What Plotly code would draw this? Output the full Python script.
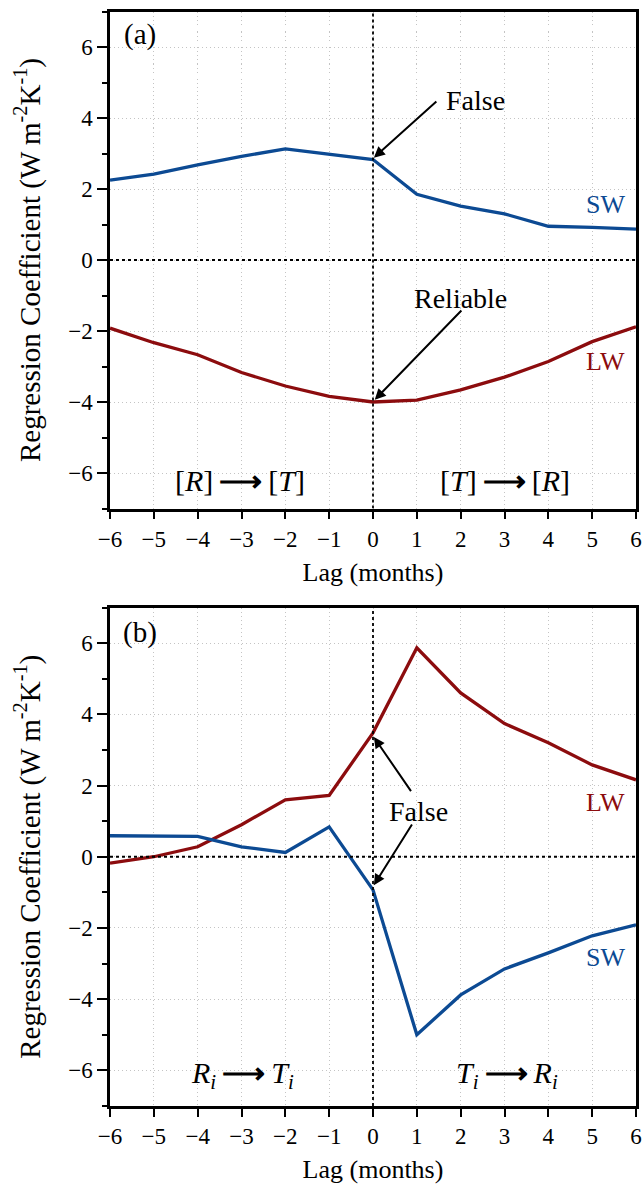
import plotly.graph_objects as go
from plotly.subplots import make_subplots

lags = [-6, -5, -4, -3, -2, -1, 0, 1, 2, 3, 4, 5, 6]

# Panel (a)
sw_a = [2.25, 2.42, 2.68, 2.92, 3.13, 2.98, 2.83, 1.85, 1.52, 1.30, 0.95, 0.92, 0.87]
lw_a = [-1.92, -2.33, -2.67, -3.17, -3.55, -3.84, -4.00, -3.95, -3.66, -3.30, -2.86, -2.30, -1.88]

# Panel (b)
lw_b = [-0.18, 0.0, 0.28, 0.90, 1.60, 1.72, 3.48, 5.87, 4.60, 3.74, 3.20, 2.58, 2.16]
sw_b = [0.59, 0.59, 0.57, 0.28, 0.12, 0.84, -0.93, -5.00, -3.88, -3.15, -2.70, -2.22, -1.91]

x_ticks = [-6, -5, -4, -3, -2, -1, 0, 1, 2, 3, 4, 5, 6]
y_ticks = [-6, -4, -2, 0, 2, 4, 6]

BLUE = "#0c4a93"
RED = "#8c0c0e"
FONT = "Liberation Serif"

fig = make_subplots(rows=2, cols=1, vertical_spacing=0.08)

fig.add_trace(go.Scatter(x=lags, y=sw_a, mode="lines", line=dict(color=BLUE, width=3.3)), row=1, col=1)
fig.add_trace(go.Scatter(x=lags, y=lw_a, mode="lines", line=dict(color=RED, width=3.3)), row=1, col=1)
fig.add_trace(go.Scatter(x=lags, y=lw_b, mode="lines", line=dict(color=RED, width=3.3)), row=2, col=1)
fig.add_trace(go.Scatter(x=lags, y=sw_b, mode="lines", line=dict(color=BLUE, width=3.3)), row=2, col=1)

axis_common = dict(
    showline=True, linecolor="black", linewidth=2.5, mirror=True,
    ticks="outside", tickcolor="black", tickwidth=2,
    showgrid=True, gridcolor="#c4c4c4", griddash="1px,3px", gridwidth=1,
    zeroline=False, automargin=False,
    tickfont=dict(family=FONT, size=23, color="black"),
)

for r in (1, 2):
    fig.update_xaxes(
        range=[-6, 6], tickvals=x_ticks, ticklen=8, ticklabeloverflow="allow",
        title=dict(text="Lag (months)", font=dict(family=FONT, size=26, color="black"), standoff=12),
        row=r, col=1, **axis_common)
    fig.update_yaxes(
        range=[-7, 7], tickvals=y_ticks, ticklen=10,
        minor=dict(dtick=1, tick0=1, ticks="outside", ticklen=5, tickwidth=2, tickcolor="black", showgrid=False),
        title=dict(text="Regression Coefficient (W m<sup>-2</sup>K<sup>-1</sup>)",
                   font=dict(family=FONT, size=29, color="black"), standoff=20),
        row=r, col=1, **axis_common)

H = 1188.0
fig.update_layout(
    width=643, height=1188,
    margin=dict(l=110, r=7, t=0, b=0, autoexpand=False),
    plot_bgcolor="white", paper_bgcolor="white",
    showlegend=False,
    font=dict(family=FONT, size=26, color="black"),
    yaxis=dict(domain=[1 - 508.5 / H, 1 - 11.5 / H]),
    yaxis2=dict(domain=[1 - 1106 / H, 1 - 607.5 / H]),
)

# zero lines
for xr, yr in (("x", "y"), ("x2", "y2")):
    fig.add_shape(type="line", xref=xr, yref=yr, x0=-6, x1=6, y0=0, y1=0,
                  line=dict(color="black", width=1.8, dash="dot"))
    fig.add_shape(type="line", xref=xr, yref=yr, x0=0, x1=0, y0=-7, y1=7,
                  line=dict(color="black", width=1.8, dash="dot"))

def txt(xr, yr, x, y, text, color="black", size=28):
    fig.add_annotation(xref=xr, yref=yr, x=x, y=y, text=text, showarrow=False,
                       font=dict(family=FONT, size=size, color=color))

def arrow(xr, yr, x, y, ax, ay):
    fig.add_annotation(xref=xr, yref=yr, axref=xr, ayref=yr, x=x, y=y, ax=ax, ay=ay,
                       text="", showarrow=True, arrowhead=2, arrowsize=1.1,
                       arrowwidth=2, arrowcolor="black")

ARW = "\u2009<b>⟶</b>\u2009"

# Panel (a)
txt("x", "y", -5.32, 6.34, "(a)", size=29)
txt("x", "y", 2.33, 4.5, "False")
arrow("x", "y", 0.02, 2.88, 1.48, 4.5)
txt("x", "y", 1.99, -1.08, "Reliable")
arrow("x", "y", 0.04, -3.94, 2.05, -1.38)
txt("x", "y", 5.3, 1.55, "SW", color=BLUE, size=26)
txt("x", "y", 5.3, -2.87, "LW", color=RED, size=26)
txt("x", "y", -3.04, -6.2, f"[<i>R</i>]{ARW}[<i>T</i>]", size=30)
txt("x", "y", 3.0, -6.2, f"[<i>T</i>]{ARW}[<i>R</i>]", size=30)

# Panel (b)
txt("x2", "y2", -5.32, 6.29, "(b)", size=29)
txt("x2", "y2", 1.03, 1.26, "False")
arrow("x2", "y2", 0.02, 3.36, 0.89, 1.8)
arrow("x2", "y2", 0.02, -0.8, 0.91, 0.95)
txt("x2", "y2", 5.3, 1.52, "LW", color=RED, size=26)
txt("x2", "y2", 5.3, -2.84, "SW", color=BLUE, size=26)
txt("x2", "y2", -2.97, -6.12, f"<i>R<sub>i</sub></i>{ARW}<i>T<sub>i</sub></i>", size=30)
txt("x2", "y2", 3.06, -6.12, f"<i>T<sub>i</sub></i>{ARW}<i>R<sub>i</sub></i>", size=30)

fig.write_html(
    "out.html",
    config={"displayModeBar": False},
    post_script="document.body.style.margin='0';document.body.style.overflow='hidden';",
)
